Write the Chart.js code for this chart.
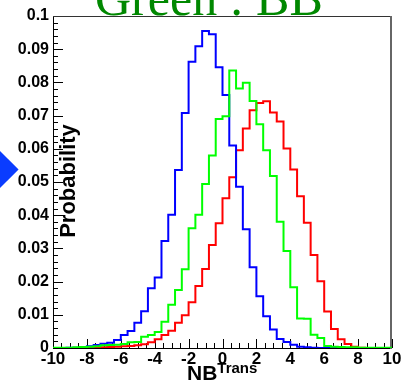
<!DOCTYPE html>
<html>
<head>
<meta charset="utf-8">
<script src="https://cdn.jsdelivr.net/npm/chart.js@4/dist/chart.umd.min.js"></script>
<style>
  html, body { margin: 0; padding: 0; background: #fff; overflow: hidden; }
  #wrap { position: relative; width: 404px; height: 389px; overflow: hidden; }
  #title { position: absolute; left: 95px; top: -27px; font-family: "Liberation Serif", "DejaVu Serif", serif; font-size: 50px; line-height: 1; color: #008800; white-space: nowrap; }
  #ytitle { position: absolute; left: 68px; top: 181px; transform: translate(-50%, -50%) rotate(-90deg); font-family: "Liberation Sans", Arial, sans-serif; font-weight: bold; font-size: 22px; line-height: 1; color: #000; white-space: nowrap; }
  #xtitle { position: absolute; left: 187px; top: 362px; font-family: "Liberation Sans", Arial, sans-serif; font-weight: bold; font-size: 21px; line-height: 1; color: #000; white-space: nowrap; }
  #xtitle sup { font-size: 15px; position: relative; top: -2px; vertical-align: top; }
  #diamond { position: absolute; left: -14px; top: 156px; width: 27px; height: 27px; background: #0a3cff; transform: rotate(45deg); }
</style>
</head>
<body>
<div id="wrap">
  <canvas id="c"></canvas>
  <div id="title">Green : BB</div>
  <div id="ytitle">Probability</div>
  <div id="xtitle">NB<sup>Trans</sup></div>
  <div id="diamond"></div>
</div>
<script>
// Bin lower edges (bin width 0.4) and the upper edge of the last bin
const binLow = [-10, -9.6, -9.2, -8.8, -8.4, -8, -7.6, -7.2, -6.8, -6.4,
                -6, -5.6, -5.2, -4.8, -4.4, -4, -3.6, -3.2, -2.8, -2.4,
                -2, -1.6, -1.2, -0.8, -0.4, 0, 0.4, 0.8, 1.2, 1.6,
                2, 2.4, 2.8, 3.2, 3.6, 4, 4.4, 4.8, 5.2, 5.6,
                6, 6.4, 6.8, 7.2, 7.6, 8, 8.4, 8.8, 9.2, 9.6];
const binHighLast = 10;

const blueValues = [0, 0, 0.0001, 0.0001, 0.0002, 0.0005, 0.0009, 0.0013, 0.0016, 0.0024,
                    0.0039, 0.0051, 0.0076, 0.0111, 0.018, 0.0212, 0.0322, 0.0401, 0.0536, 0.0708,
                    0.0862, 0.0909, 0.0955, 0.0945, 0.0846, 0.0762, 0.061, 0.0486, 0.0358, 0.0243,
                    0.0156, 0.0096, 0.0056, 0.0027, 0.0018, 0.001, 0.0004, 0.0002, 0.0001, 0,
                    0, 0, 0, 0, 0, 0, 0, 0, 0, 0];

const greenValues = [0.0001, 0.0001, 0.0001, 0.0002, 0.0003, 0.0004, 0.0005, 0.0008, 0.0009, 0.001,
                     0.0012, 0.0017, 0.0018, 0.0034, 0.0039, 0.0048, 0.0079, 0.013, 0.0175, 0.0237,
                     0.0361, 0.0401, 0.0494, 0.058, 0.069, 0.0698, 0.0836, 0.0782, 0.0799, 0.0744,
                     0.0674, 0.0596, 0.0518, 0.038, 0.0292, 0.0183, 0.0089, 0.0088, 0.004, 0.003,
                     0.0006, 0.0004, 0.0003, 0.0002, 0.0002, 0.0001, 0.0001, 0.0001, 0.0001, 0.0001];

const redValues = [0, 0, 0, 0, 0, 0.0001, 0.0002, 0.0002, 0.0003, 0.0004,
                   0.0005, 0.0006, 0.0008, 0.0011, 0.0017, 0.0026, 0.0039, 0.0052, 0.0076, 0.0099,
                   0.0138, 0.0187, 0.0238, 0.031, 0.0376, 0.0451, 0.0514, 0.0596, 0.0661, 0.0716,
                   0.0738, 0.0743, 0.0709, 0.0682, 0.0601, 0.0538, 0.0457, 0.0377, 0.028, 0.0201,
                   0.011, 0.0057, 0.0026, 0.0012, 0.0004, 0.0001, 0, 0, 0, 0];

const xTickValues = [-10, -8, -6, -4, -2, 0, 2, 4, 6, 8, 10];
const yTickLabels = ['0', '0.01', '0.02', '0.03', '0.04', '0.05', '0.06', '0.07', '0.08', '0.09', '0.1'];

// Build histogram outline: each bin contributes its left and right edge at its height
function histPoints(values) {
  const pts = [];
  for (let i = 0; i < values.length; i++) {
    const lo = binLow[i];
    const hi = i + 1 < binLow.length ? binLow[i + 1] : binHighLast;
    pts.push({x: lo, y: values[i]});
    pts.push({x: hi, y: values[i]});
  }
  return pts;
}

const frameTicks = {
  id: 'frameTicks',
  beforeDatasetsDraw(chart) {
    const {ctx, chartArea: a, scales: {x, y}} = chart;
    ctx.save();
    ctx.lineWidth = 1;
    ctx.strokeStyle = '#000';
    ctx.beginPath();
    // y ticks (inward), minor every 0.002, major every 0.01
    for (let k = 0; k <= 50; k++) {
      const v = k * 0.002;
      const py = Math.round(y.getPixelForValue(v)) + 0.5;
      const len = (k % 5 === 0) ? 10 : 5;
      ctx.moveTo(a.left, py);
      ctx.lineTo(a.left + len, py);
    }
    // x ticks (upward), minor every 0.5, major every 2
    for (let k = 0; k <= 40; k++) {
      const v = -10 + k * 0.5;
      const px = Math.round(x.getPixelForValue(v)) + 0.5;
      const len = (k % 4 === 0) ? 9 : 5;
      ctx.moveTo(px, a.bottom);
      ctx.lineTo(px, a.bottom - len);
    }
    ctx.stroke();
    // frame: left & bottom black axes
    ctx.beginPath();
    ctx.moveTo(a.left + 0.5, a.top);
    ctx.lineTo(a.left + 0.5, a.bottom + 0.5);
    ctx.lineTo(a.right, a.bottom + 0.5);
    ctx.stroke();
    // top thin line
    ctx.strokeStyle = '#333';
    ctx.beginPath();
    ctx.moveTo(a.left, a.top + 0.5);
    ctx.lineTo(a.right, a.top + 0.5);
    ctx.stroke();
    // right grey border
    ctx.strokeStyle = '#666';
    ctx.lineWidth = 2;
    ctx.beginPath();
    ctx.moveTo(a.right - 1, a.top);
    ctx.lineTo(a.right - 1, a.bottom + 1);
    ctx.stroke();
    ctx.restore();
  }
};

const tickFont = {family: '"Liberation Sans", Arial, sans-serif', weight: 'bold', size: 16};

new Chart(document.getElementById('c'), {
  type: 'line',
  data: {
    datasets: [
      {label: 'green', data: histPoints(greenValues), borderColor: '#00ff00', order: 0},
      {label: 'blue', data: histPoints(blueValues), borderColor: '#0000ff', order: 1},
      {label: 'red', data: histPoints(redValues), borderColor: '#ff0000', order: 2}
    ].map(d => Object.assign(d, {borderWidth: 2, pointRadius: 0, fill: false, tension: 0}))
  },
  options: {
    responsive: true,
    maintainAspectRatio: false,
    animation: false,
    events: [],
    layout: {padding: {top: 16, right: 12, left: 0, bottom: 0}},
    plugins: {legend: {display: false}, tooltip: {enabled: false}, title: {display: false}},
    scales: {
      x: {
        type: 'linear', min: -10, max: 10,
        grid: {display: false, drawTicks: false},
        border: {display: false},
        afterFit(s) { s.height = 41; },
        afterBuildTicks(s) { s.ticks = xTickValues.map(v => ({value: v})); },
        ticks: {color: '#000', font: Object.assign({}, tickFont, {size: 17}), padding: 1, maxRotation: 0, autoSkip: false,
                callback: v => String(v)}
      },
      y: {
        type: 'linear', min: 0, max: 0.1,
        grid: {display: false, drawTicks: false},
        border: {display: false},
        afterFit(s) { s.width = 53; },
        afterBuildTicks(s) { s.ticks = yTickLabels.map(t => ({value: parseFloat(t)})); },
        ticks: {color: '#000', font: tickFont, padding: 4, autoSkip: false,
                callback: (v, i) => yTickLabels[i]}
      }
    }
  },
  plugins: [frameTicks]
});
</script>
</body>
</html>
